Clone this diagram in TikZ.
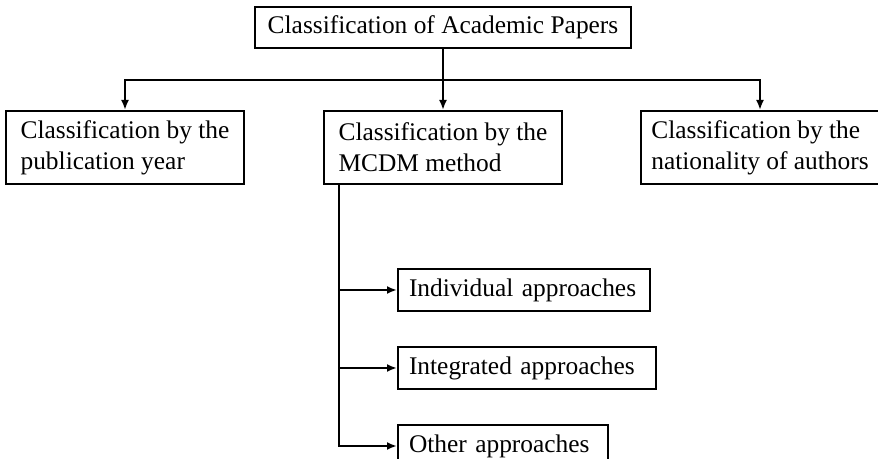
\documentclass[tikz,border=0pt]{standalone}
\usepackage{fontspec}
\setmainfont{Liberation Serif}
\usetikzlibrary{arrows.meta, positioning, calc}
\tikzset{
    base/.style = {rectangle, draw=black, line width=1pt, font=\fontsize{12.7}{15.5}\selectfont, inner ysep=2pt, inner xsep=1pt},
    topbox/.style = {base, minimum width=188pt, minimum height=20.5pt},
    catbox/.style = {base, minimum width=119pt, minimum height=36.5pt, align=left},
    subbox/.style = {base, minimum height=21pt, inner xsep=5.5pt, align=left},
    link/.style = {line width=1pt},
    arrow/.style = {line width=1pt, -{Latex[length=5pt,width=4pt]}}
}
\begin{document}
\begin{tikzpicture}[x=0.5pt, y=0.5pt]
        \useasboundingbox (0,0) rectangle (878,-459);

        % Top
        \node (papers) [topbox] at (443,-27.5) {Classification of Academic Papers};

        % Classes
        \node (mcdm) [catbox, below=30.5pt of papers] {Classification by the\\MCDM method};
        \node (year) [catbox, left=39pt of mcdm] {Classification by the\\publication year};
        \node (nation) [catbox, right=38.5pt of mcdm] {Classification by the\\nationality of authors};

        % MCDM approaches
        \node (indiv) [subbox, text width=115pt, below right=41.5pt and 37pt of mcdm.south west] {Individual approaches};
        \node (integ) [subbox, text width=118pt, below right=17pt and 0pt of indiv.south west] {Integrated approaches};
        \node (other) [subbox, text width=94pt, below right=17pt and 0pt of integ.south west] {Other approaches};

        \coordinate (split) at ($(papers.south)+(0,-15.5pt)$);
        \coordinate (trunk) at ($(mcdm.south west)+(8pt,0)$);

        % Top arrows
        \draw [link] (papers.south) -- (split);
        \draw [arrow] (split) -| (year.north);
        \draw [arrow] (split) -- (mcdm.north);
        \draw [arrow] (split) -| (nation.north);

        % Branch arrows
        \draw [arrow] (trunk) |- (indiv.west);
        \draw [arrow] (trunk) |- (integ.west);
        \draw [arrow] (trunk) |- (other.west);

    \end{tikzpicture}
\end{document}
